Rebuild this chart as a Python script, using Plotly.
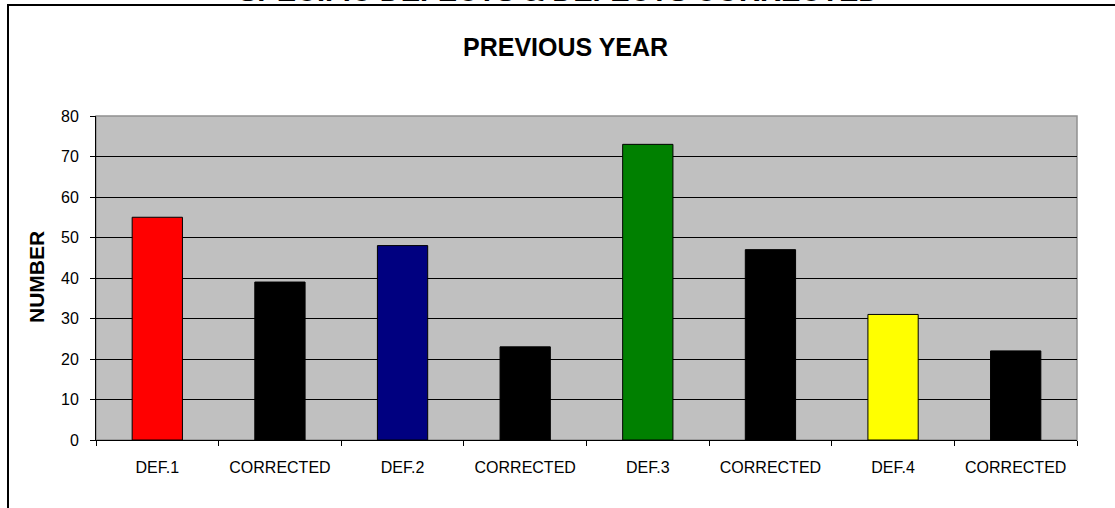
import plotly.graph_objects as go

categories = ["DEF.1", "CORRECTED", "DEF.2", "CORRECTED", "DEF.3", "CORRECTED", "DEF.4", "CORRECTED"]
values = [55, 39, 48, 23, 73, 47, 31, 22]
bar_colors = ["#FF0000", "#000000", "#000080", "#000000", "#008000", "#000000", "#FFFF00", "#000000"]
y_ticks = [0, 10, 20, 30, 40, 50, 60, 70, 80]

positions = list(range(len(categories)))
FONT = "Liberation Sans, Arial, sans-serif"

fig = go.Figure()
fig.add_trace(go.Bar(
    x=positions, y=values, width=0.41,
    marker=dict(color=bar_colors, line=dict(color="#000000", width=1)),
    hoverinfo="skip",
))

W, H = 1115, 508
L, R, T, B = 96, 38, 116, 68
pw, ph = W - L - R, H - T - B

def px(xp):
    return (xp - L) / pw

def py(yp):
    return (H - B - yp) / ph

fig.update_layout(
    width=W, height=H,
    margin=dict(l=L, r=R, t=T, b=B, pad=0),
    paper_bgcolor="#FFFFFF",
    plot_bgcolor="#C0C0C0",
    showlegend=False,
    bargap=0.59,
    font=dict(family=FONT, color="#000000", size=16),
    xaxis=dict(
        range=[-0.5, len(categories) - 0.5],
        tickmode="array", tickvals=positions, ticktext=categories,
        ticks="", showgrid=False, zeroline=False,
        showline=True, linecolor="#000000", linewidth=1,
        tickfont=dict(size=16, family=FONT),
        ticklabelstandoff=13,
        minor=dict(tickmode="array", tickvals=[p - 0.5 for p in positions] + [len(categories) - 0.5],
                   ticks="outside", ticklen=5, tickcolor="#000000", tickwidth=1, showgrid=False),
        fixedrange=True,
    ),
    yaxis=dict(
        range=[0, 80], tickmode="array", tickvals=y_ticks,
        ticks="outside", ticklen=5, tickcolor="#000000", tickwidth=1,
        showgrid=True, gridcolor="#000000", gridwidth=1,
        zeroline=False, showline=True, linecolor="#000000", linewidth=1,
        tickfont=dict(size=16, family=FONT),
        ticklabelstandoff=8,
        fixedrange=True,
    ),
    shapes=[
        dict(type="rect", xref="paper", yref="paper", x0=0, x1=1, y0=0, y1=1,
             line=dict(color="#909090", width=1.5), layer="below"),
        dict(type="rect", xref="paper", yref="paper",
             x0=px(8), x1=px(1125), y0=py(515), y1=py(5),
             line=dict(color="#000000", width=2)),
    ],
    annotations=[
        dict(text="<b>SPECIFIC DEFECTS & DEFECTS CORRECTED</b>", xref="paper", yref="paper",
             x=px(558), y=py(9), xanchor="center", yanchor="bottom", showarrow=False,
             font=dict(size=29, family=FONT, color="#000000")),
        dict(text="<b>PREVIOUS YEAR</b>", xref="paper", yref="paper",
             x=px(565), y=py(47), xanchor="center", yanchor="middle", showarrow=False,
             font=dict(size=25, family=FONT, color="#000000")),
        dict(text="<b>NUMBER</b>", xref="paper", yref="paper", textangle=-90,
             x=px(36), y=py(277), xanchor="center", yanchor="middle", showarrow=False,
             font=dict(size=21, family=FONT, color="#000000")),
    ],
)

fig.write_html("out.html", config={"displayModeBar": False},
               post_script="document.body.style.margin='0';")
